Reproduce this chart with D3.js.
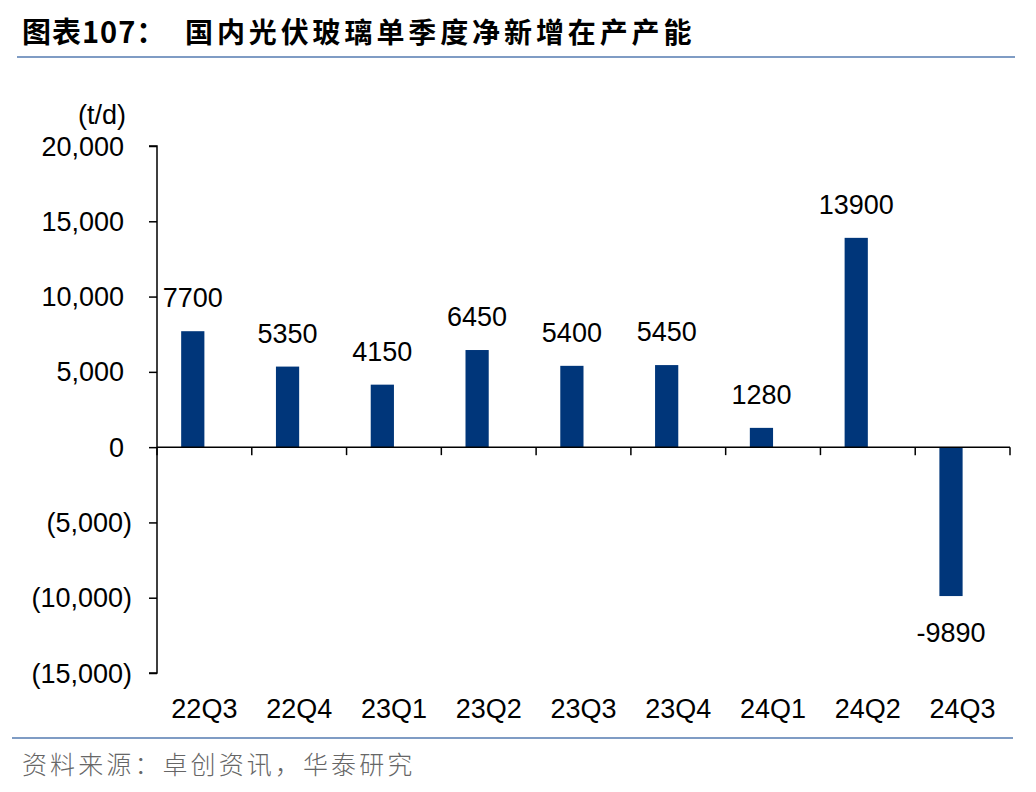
<!DOCTYPE html>
<html>
<head>
<meta charset="utf-8">
<script src="https://cdn.jsdelivr.net/npm/d3@7"></script>
<style>
  body { margin: 0; background: #fff; }
  svg { display: block; }
  text { font-family: "Liberation Sans", Arial, sans-serif; fill: #000; }
</style>
</head>
<body>
<script>
// chart data
var categories = ['22Q3', '22Q4', '23Q1', '23Q2', '23Q3', '23Q4', '24Q1', '24Q2', '24Q3'];
var values = [7700, 5350, 4150, 6450, 5400, 5450, 1280, 13900, -9890];
var yTicks = [20000, 15000, 10000, 5000, 0, -5000, -10000, -15000];

var width = 1036, height = 792;
var svg = d3.select('body').append('svg')
  .attr('width', width)
  .attr('height', height);

// title + rules
svg.append('text')
  .attr('x', 22).attr('y', 43)
  .style('font-family', '"Noto Sans CJK SC", sans-serif')
  .style('font-size', '29px')
  .style('font-weight', 'bold')
  .style('letter-spacing', '1px')
  .text('图表107：');
svg.append('text')
  .attr('x', 185).attr('y', 43)
  .style('font-family', '"Noto Sans CJK SC", sans-serif')
  .style('font-size', '28px')
  .style('font-weight', 'bold')
  .style('letter-spacing', '3.9px')
  .text('国内光伏玻璃单季度净新增在产产能');
svg.append('line')
  .attr('x1', 17).attr('x2', 1015).attr('y1', 57).attr('y2', 57)
  .style('stroke', '#7f9cc4').style('stroke-width', 2);
svg.append('line')
  .attr('x1', 12).attr('x2', 1013).attr('y1', 738).attr('y2', 738)
  .style('stroke', '#7f9cc4').style('stroke-width', 2);
svg.append('text')
  .attr('x', 22).attr('y', 774)
  .style('font-family', '"Noto Sans CJK SC", sans-serif')
  .style('font-size', '25px')
  .style('fill', '#666')
  .style('font-weight', 300)
  .style('letter-spacing', '3.1px')
  .text('资料来源：卓创资讯，华泰研究');

// scales
var x = d3.scaleBand().domain(categories).range([157, 1010]).padding(0);
var y = d3.scaleLinear().domain([-15000, 20000]).range([673, 146]);
var barW = x.bandwidth() * 0.245;

var fmt = d3.format(',');
function tickFmt(d) {
  return d < 0 ? '(' + fmt(-d) + ')' : fmt(d);
}

// y axis
var yAxis = d3.axisLeft(y)
  .tickValues(yTicks)
  .tickSize(8)
  .tickPadding(0)
  .tickFormat(function () { return ''; });
var gy = svg.append('g')
  .attr('transform', 'translate(157,0)')
  .call(yAxis);
gy.select('.domain').attr('d', 'M-8,' + y(20000) + 'H0V' + y(-15000) + 'H-8');
gy.selectAll('line, .domain').style('stroke', '#000').style('stroke-width', 1.5);

svg.selectAll('.ytick')
  .data(yTicks)
  .enter().append('text')
  .attr('class', 'ytick')
  .attr('x', function (d) { return d < 0 ? 132 : 124; })
  .attr('y', function (d) { return y(d) + 9.5; })
  .attr('text-anchor', 'end')
  .style('font-size', '27px')
  .text(tickFmt);

svg.append('text')
  .attr('x', 126).attr('y', 124)
  .attr('text-anchor', 'end')
  .style('font-size', '27px')
  .text('(t/d)');

// bars
svg.selectAll('.bar')
  .data(values)
  .enter().append('rect')
  .attr('class', 'bar')
  .attr('x', function (d, i) { return x(categories[i]) + x.bandwidth() / 2 - barW; })
  .attr('width', barW)
  .attr('y', function (d) { return y(Math.max(0, d)); })
  .attr('height', function (d) { return Math.abs(y(d) - y(0)); })
  .style('fill', '#00367a');

// value labels
svg.selectAll('.vlabel')
  .data(values)
  .enter().append('text')
  .attr('class', 'vlabel')
  .attr('x', function (d, i) { return x(categories[i]) + x.bandwidth() / 2 - barW / 2; })
  .attr('y', function (d) { return d >= 0 ? y(d) - 24 : y(d) + 46; })
  .attr('text-anchor', 'middle')
  .style('font-size', '27px')
  .text(function (d) { return d; });

// x axis at zero
var xAxis = d3.axisBottom(x).tickSize(0).tickFormat(function () { return ''; });
var gx = svg.append('g')
  .attr('transform', 'translate(0,' + y(0) + ')')
  .call(xAxis);
gx.select('.domain').attr('d', 'M157,0H1010');
gx.selectAll('.tick').remove();
gx.selectAll('.btick')
  .data(categories.concat(['end']))
  .enter().append('line')
  .attr('class', 'btick')
  .attr('x1', function (d, i) { return 157 + i * x.bandwidth(); })
  .attr('x2', function (d, i) { return 157 + i * x.bandwidth(); })
  .attr('y1', 0).attr('y2', 8);
gx.selectAll('line, .domain').style('stroke', '#000').style('stroke-width', 1.5);

// category labels at the bottom
svg.selectAll('.clabel')
  .data(categories)
  .enter().append('text')
  .attr('class', 'clabel')
  .attr('x', function (d) { return x(d) + x.bandwidth() / 2; })
  .attr('y', 718)
  .attr('text-anchor', 'middle')
  .style('font-size', '27px')
  .text(function (d) { return d; });
</script>
</body>
</html>
